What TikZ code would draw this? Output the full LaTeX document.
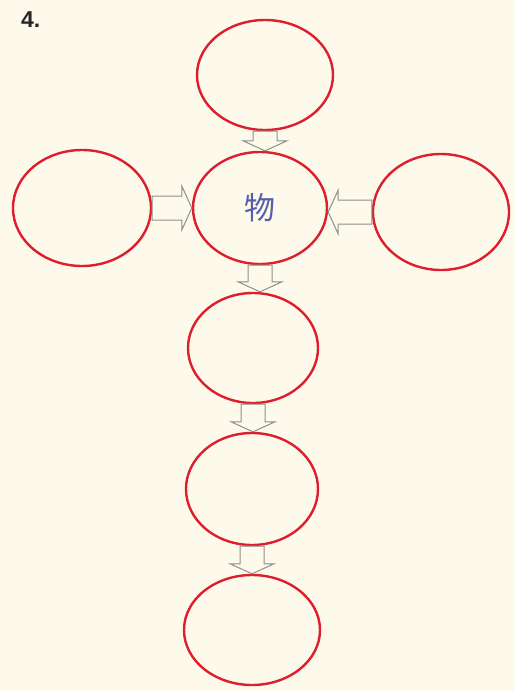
\documentclass[tikz,border=0pt]{standalone}
\usepackage{fontspec}
\newfontfamily\cjkfont{Noto Sans CJK SC}
\newfontfamily\labelfont{Liberation Sans}
\usetikzlibrary{shapes.geometric,calc}
\definecolor{bgcream}{RGB}{253,250,236}
\definecolor{ringred}{RGB}{222,30,45}
\definecolor{arrowgray}{RGB}{140,145,140}
\definecolor{textblue}{RGB}{85,95,175}
\tikzset{
  ring/.style={ellipse, draw=ringred, line width=2.4pt, inner sep=0pt},
  blockarrow/.style={draw=arrowgray, line width=1pt, line join=miter,
    to path={let \p1=(\tikztostart), \p2=(\tikztotarget),
      \n1={atan2(\y2-\y1,\x2-\x1)}, \n2={veclen(\x2-\x1,\y2-\y1)} in
      [shift={(\p1)}, rotate=\n1]
      (0pt,-12pt) -- ({\n2-10pt},-12pt) -- ({\n2-10pt},-22pt) -- (\n2,0pt)
      -- ({\n2-10pt},22pt) -- ({\n2-10pt},12pt) -- (0pt,12pt) -- cycle}}
}
\begin{document}
\begin{tikzpicture}[x=1pt,y=-1pt]
\fill[bgcream] (0,0) rectangle (514,691);
\useasboundingbox (0,0) rectangle (514,691);
\node[anchor=west, inner sep=0pt, font=\labelfont\bfseries\fontsize{23}{25}\selectfont, text=black!85] (num) at (21,20) {4.};
\node[ring, minimum width=136pt, minimum height=110pt] (top) at (265,75) {};
\node[ring, minimum width=138pt, minimum height=116pt] (l) at (82,208) {};
\node[ring, minimum width=134pt, minimum height=112pt, font=\cjkfont\fontsize{31}{33}\selectfont, text=textblue] (c) at (260,208) {物};
\node[ring, minimum width=136pt, minimum height=116pt] (r) at (441,212) {};
\node[ring, minimum width=130pt, minimum height=110pt] (m2) at (253,348) {};
\node[ring, minimum width=132pt, minimum height=112pt] (m3) at (252,489) {};
\node[ring, minimum width=136pt, minimum height=110pt] (b) at (252,630) {};
\draw[blockarrow] (top.south) to (top.south |- c.north);
\draw[blockarrow] (l.east) to (l.east -| c.west);
\draw[blockarrow] (r.west) to (r.west -| c.east);
\draw[blockarrow] (c.south) to (c.south |- m2.north);
\draw[blockarrow] (m2.south) to (m2.south |- m3.north);
\draw[blockarrow] (m3.south) to (m3.south |- b.north);
\end{tikzpicture}
\end{document}
